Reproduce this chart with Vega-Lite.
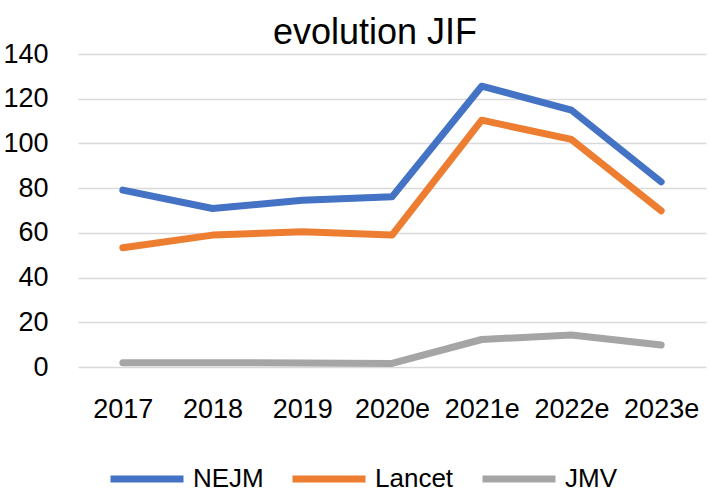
{
  "$schema": "https://vega.github.io/schema/vega-lite/v6.json",
  "autosize": "none",
  "width": 628,
  "height": 313,
  "padding": {"left": 78, "top": 54, "right": 5, "bottom": 132},
  "background": "white",
  "config": {
    "font": "Liberation Sans",
    "view": {"stroke": null}
  },
  "title": {
    "text": "evolution JIF",
    "fontSize": 36,
    "fontWeight": "normal",
    "color": "#000000",
    "anchor": "middle",
    "offset": -12,
    "dx": -17
  },
  "data": {
    "values": [
      {"year": "2017", "journal": "NEJM", "jif": 79.1},
      {"year": "2018", "journal": "NEJM", "jif": 70.9},
      {"year": "2019", "journal": "NEJM", "jif": 74.6},
      {"year": "2020e", "journal": "NEJM", "jif": 76.1},
      {"year": "2021e", "journal": "NEJM", "jif": 125.6},
      {"year": "2022e", "journal": "NEJM", "jif": 114.9},
      {"year": "2023e", "journal": "NEJM", "jif": 82.8},
      {"year": "2017", "journal": "Lancet", "jif": 53.3},
      {"year": "2018", "journal": "Lancet", "jif": 59.0},
      {"year": "2019", "journal": "Lancet", "jif": 60.5},
      {"year": "2020e", "journal": "Lancet", "jif": 59.0},
      {"year": "2021e", "journal": "Lancet", "jif": 110.4},
      {"year": "2022e", "journal": "Lancet", "jif": 101.8},
      {"year": "2023e", "journal": "Lancet", "jif": 69.9},
      {"year": "2017", "journal": "JMV", "jif": 1.9},
      {"year": "2018", "journal": "JMV", "jif": 1.9},
      {"year": "2019", "journal": "JMV", "jif": 1.8},
      {"year": "2020e", "journal": "JMV", "jif": 1.6},
      {"year": "2021e", "journal": "JMV", "jif": 12.3},
      {"year": "2022e", "journal": "JMV", "jif": 14.3},
      {"year": "2023e", "journal": "JMV", "jif": 9.8}
    ]
  },
  "mark": {"type": "line", "strokeWidth": 7, "strokeCap": "round", "strokeJoin": "round"},
  "encoding": {
    "x": {
      "field": "year",
      "type": "ordinal",
      "sort": null,
      "scale": {"type": "point", "padding": 0.5},
      "axis": {
        "title": null,
        "labelAngle": 0,
        "labelFontSize": 27,
        "labelColor": "#000000",
        "labelPadding": 29,
        "domain": false,
        "ticks": false
      }
    },
    "y": {
      "field": "jif",
      "type": "quantitative",
      "scale": {"domain": [0, 140], "nice": false},
      "axis": {
        "title": null,
        "values": [0, 20, 40, 60, 80, 100, 120, 140],
        "labelFontSize": 27,
        "labelColor": "#000000",
        "labelPadding": 30,
        "domain": false,
        "ticks": false,
        "gridColor": "#d9d9d9",
        "gridWidth": 1.5
      }
    },
    "color": {
      "field": "journal",
      "type": "nominal",
      "sort": ["NEJM", "Lancet", "JMV"],
      "scale": {"domain": ["NEJM", "Lancet", "JMV"], "range": ["#4472C4", "#ED7D31", "#A5A5A5"]},
      "legend": {
        "title": null,
        "orient": "none",
        "direction": "horizontal",
        "legendX": 29,
        "legendY": 385,
        "symbolType": "stroke",
        "symbolSize": 5329,
        "symbolStrokeWidth": 7,
        "labelFontSize": 26,
        "labelColor": "#000000",
        "labelOffset": 6,
        "columnPadding": 14
      }
    }
  }
}
